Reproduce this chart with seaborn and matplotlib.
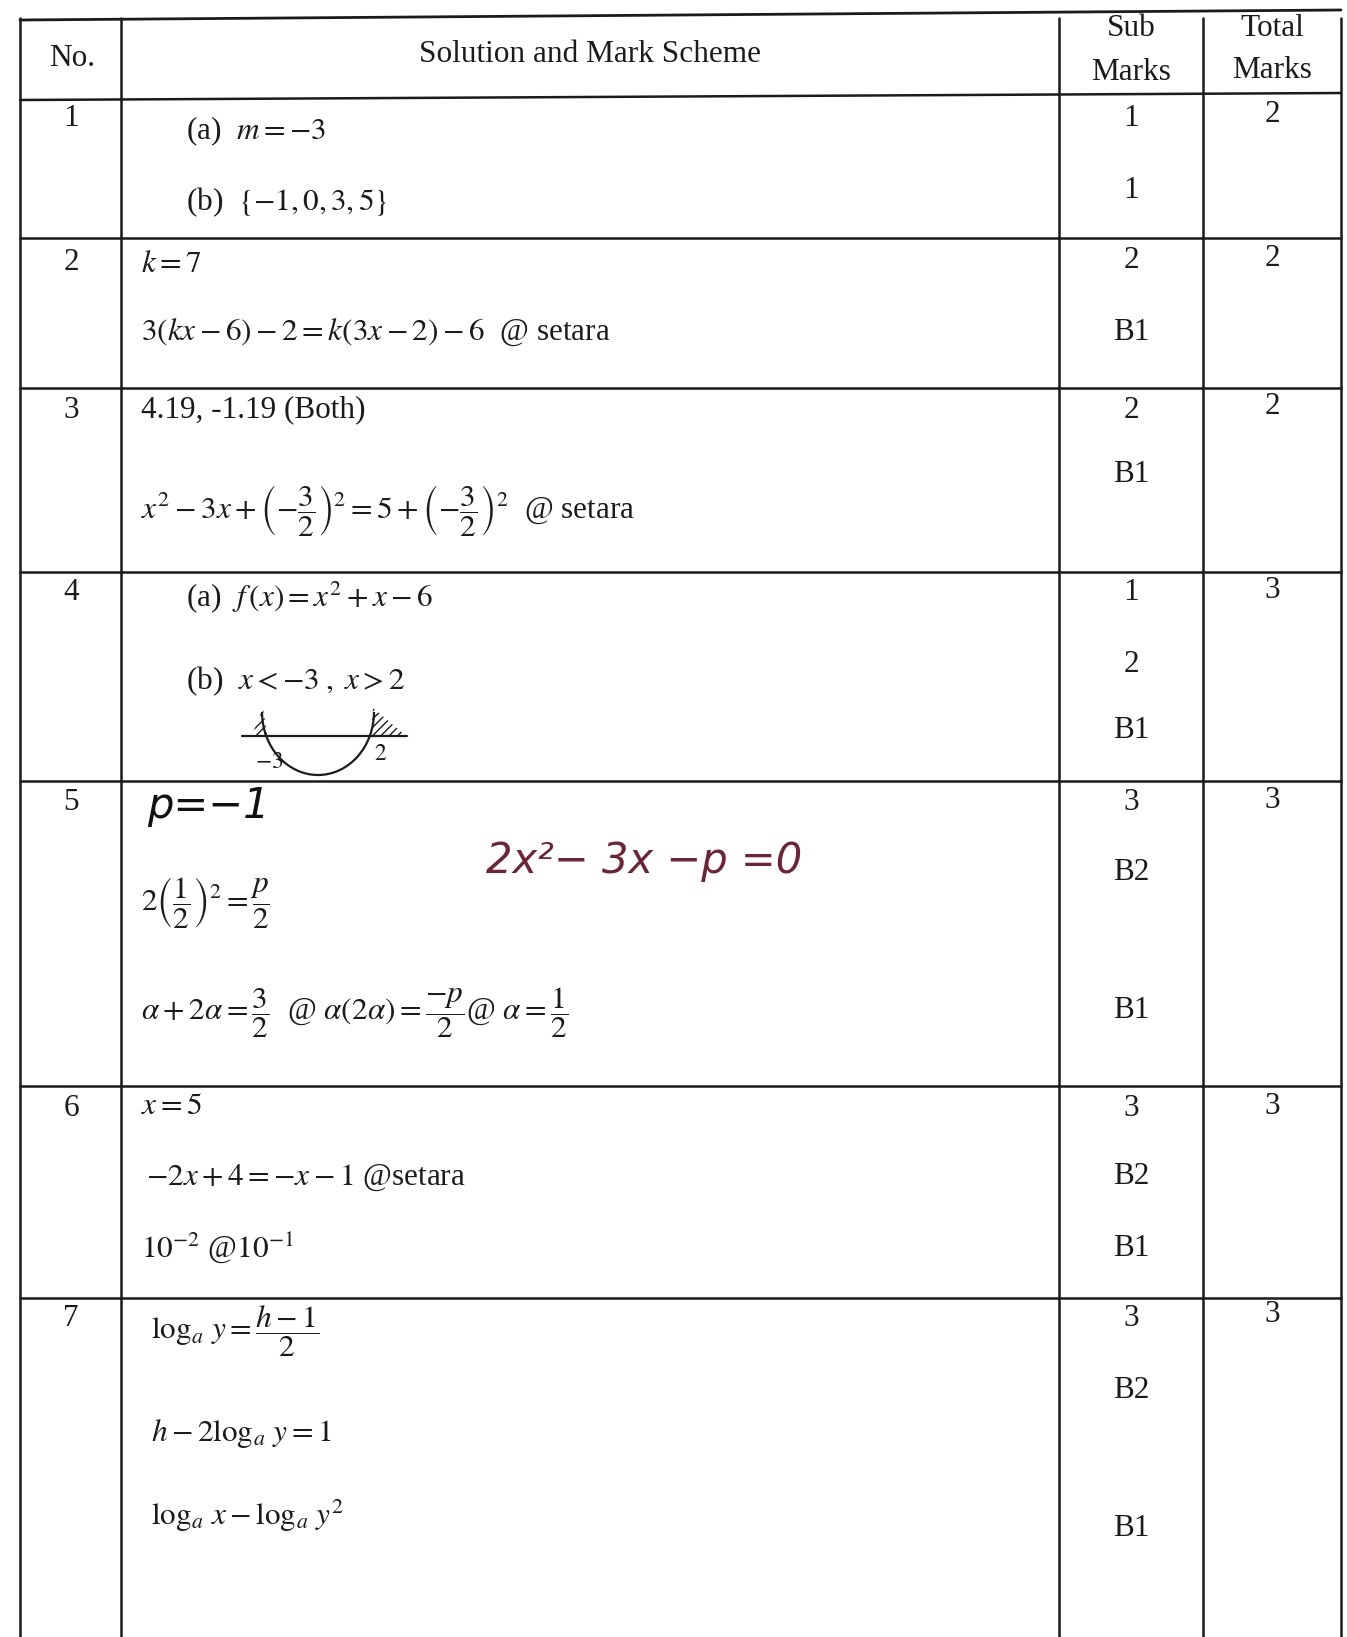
import matplotlib
matplotlib.use("Agg")
import matplotlib.pyplot as plt
import seaborn as sns
from matplotlib.patches import Arc, Polygon

# mark scheme values
question_no = ["1", "2", "3", "4", "5", "6", "7"]
total_marks = ["2", "2", "2", "3", "3", "3", "3"]
q1_lines = [r"(a)  $m=-3$", r"(b)  $\{-1,0,3,5\}$"]
q2_lines = [r"$k=7$", r"$3(kx-6)-2=k(3x-2)-6$  @ setara"]
q3_lines = ["4.19, -1.19 (Both)",
            r"$x^2-3x+\left(-\dfrac{3}{2}\right)^2=5+\left(-\dfrac{3}{2}\right)^2$  @ setara"]
q4_lines = [r"(a)  $f\,(x)=x^2+x-6$", r"(b)  $x<-3\;,\;x>2$"]
q5_lines = [r"$2\left(\dfrac{1}{2}\right)^2=\dfrac{p}{2}$",
            r"$\alpha+2\alpha=\dfrac{3}{2}$  @ $\alpha(2\alpha)=\dfrac{-p}{2}$@ $\alpha=\dfrac{1}{2}$"]
q6_lines = [r"$x=5$", r"$-2x+4=-x-1$ @setara", r"$10^{-2}$ @$10^{-1}$"]
q7_lines = [r"$\log_a\,y=\dfrac{h-1}{2}$", r"$h-2\log_a\,y=1$", r"$\log_a\,x-\log_a\,y^2$"]
sub_marks = [["1", "1"], ["2", "B1"], ["2", "B1"], ["1", "2", "B1"],
             ["3", "B2", "B1"], ["3", "B2", "B1"], ["3", "B2", "B1"]]
sketch_roots = ["-3", "2"]
hand_answer = "p=−1"
hand_note = "2x²− 3x −p =0"
solutions = [q1_lines, q2_lines, q3_lines, q4_lines, q5_lines, q6_lines, q7_lines]

# layout (pixels of the page)
W, H = 1347, 1637
col_x = [20, 121, 1059, 1203, 1341]
row_lines = [15, 97, 238, 388, 572, 781, 1086, 1298]
top_y = [118, 262, 410, 593, 803, 1109, 1318]
sol_x = [[186, 186], [141, 141], [141, 141], [186, 186], [141, 141], [141, 146, 141], [151, 151, 151]]
sol_y = [[131, 202], [264, 332], [410, 510], [597, 681], [903, 1013], [1107, 1178, 1248], [1331, 1433, 1516]]
mark_y = [[119, 190], [261, 333], [410, 475], [593, 665, 731], [803, 872, 1010], [1109, 1177, 1248], [1318, 1390, 1528]]

sns.set_theme(style="white")
plt.rcParams['font.family'] = ['Liberation Serif', 'DejaVu Serif']
plt.rcParams['mathtext.fontset'] = 'stix'

fig = plt.figure(figsize=(13.47, 16.37), dpi=100)
ax = fig.add_axes([0, 0, 1, 1])
ax.set_xlim(0, W)
ax.set_ylim(H, 0)
ax.axis("off")

ink = "#1b1b1b"
fs = 22.5

# table rules
ax.plot([col_x[0], col_x[-1]], [20, 10], color=ink, lw=2)
ax.plot([col_x[0], col_x[-1]], [100, 93], color=ink, lw=1.8)
for y in row_lines[2:]:
    ax.plot([col_x[0], col_x[-1]], [y, y], color=ink, lw=1.8)
for x in col_x:
    ax.plot([x, x], [18, H], color=ink, lw=1.8)

# header
ax.text(72, 58, "No.", ha="center", va="center", fontsize=fs, color=ink)
ax.text(590, 54, "Solution and Mark Scheme", ha="center", va="center", fontsize=fs, color=ink)
ax.text(1131, 28, "Sub", ha="center", va="center", fontsize=fs, color=ink)
ax.text(1131, 72, "Marks", ha="center", va="center", fontsize=fs, color=ink)
ax.text(1272, 28, "Total", ha="center", va="center", fontsize=fs, color=ink)
ax.text(1272, 70, "Marks", ha="center", va="center", fontsize=fs, color=ink)

# rows
for i in range(len(question_no)):
    ax.text(71, top_y[i], question_no[i], ha="center", va="center", fontsize=fs, color=ink)
    ax.text(1272, top_y[i] - 3, total_marks[i], ha="center", va="center", fontsize=fs, color=ink)
    for j, line in enumerate(solutions[i]):
        ax.text(sol_x[i][j], sol_y[i][j], line, ha="left", va="center", fontsize=fs, color=ink)
    for j, m in enumerate(sub_marks[i]):
        ax.text(1131, mark_y[i][j], m, ha="center", va="center", fontsize=fs, color=ink)

# handwritten parts of question 5
ax.text(147, 806, hand_answer, ha="left", va="center", fontsize=30, color="#111111",
        family="DejaVu Sans", style="italic")
ax.text(486, 861, hand_note, ha="left", va="center", fontsize=30, color="#6e2434",
        family="DejaVu Sans", style="italic", fontweight="light")

# sketch of x^2 + x - 6 for question 4(b)
ax.plot([242, 407], [736, 736], color=ink, lw=1.6)
ax.add_patch(Arc((318, 712), 112, 126, theta1=0, theta2=180, color=ink, lw=1.6))
ax.add_patch(Polygon([[252, 735], [267, 735], [263, 708]], closed=True, fill=False,
                     hatch="////", lw=0, edgecolor=ink))
ax.add_patch(Polygon([[371, 735], [405, 735], [373, 708]], closed=True, fill=False,
                     hatch="////", lw=0, edgecolor=ink))
ax.text(269, 762, "$" + sketch_roots[0] + "$", ha="center", va="center", fontsize=17, color=ink)
ax.text(381, 755, "$" + sketch_roots[1] + "$", ha="center", va="center", fontsize=17, color=ink)

fig.savefig("out.png", dpi=100, facecolor="white")
